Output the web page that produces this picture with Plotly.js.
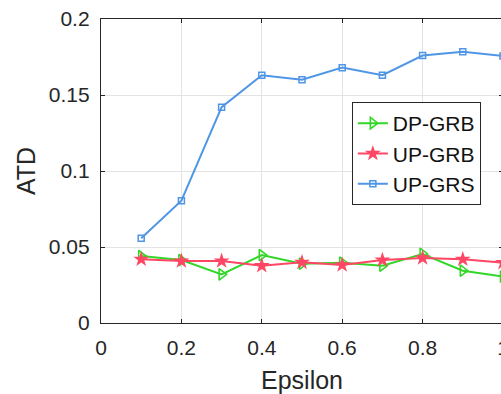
<!DOCTYPE html>
<html>
<head>
<meta charset="utf-8">
<script src="https://cdn.plot.ly/plotly-3.0.1.min.js"></script>
<style>
html,body{margin:0;padding:0;overflow:hidden;background:#fff;}
#chart{width:505px;height:394px;}
</style>
</head>
<body>
<div id="chart"></div>
<script>
const epsilon = [0.1, 0.2, 0.3, 0.4, 0.5, 0.6, 0.7, 0.8, 0.9, 1.0];
const dpGRB = [0.044, 0.0414, 0.032, 0.0447, 0.039, 0.0397, 0.0377, 0.0454, 0.0344, 0.0305];
const upGRB = [0.0419, 0.0408, 0.0408, 0.0377, 0.0399, 0.0382, 0.0414, 0.0428, 0.0419, 0.0397];
const upGRS = [0.0557, 0.0805, 0.142, 0.163, 0.160, 0.168, 0.163, 0.176, 0.1785, 0.1757];
const seriesNames = ['DP-GRB', 'UP-GRB', 'UP-GRS'];
const xTicks = [0, 0.2, 0.4, 0.6, 0.8, 1];
const yTicks = [0, 0.05, 0.1, 0.15, 0.2];

const font = 'Liberation Sans, Arial, Helvetica, sans-serif';
const axisColor = '#262626';

const traces = [
  {x: epsilon, y: dpGRB, name: seriesNames[0], mode: 'lines+markers',
   line: {color: 'rgb(50,215,40)', width: 2},
   marker: {symbol: 'triangle-right-open', size: 10, color: 'rgb(50,215,40)', line: {width: 1.6}}},
  {x: epsilon, y: upGRB, name: seriesNames[1], mode: 'lines+markers',
   line: {color: 'rgb(255,70,100)', width: 2},
   marker: {symbol: 'star', size: 12, color: 'rgb(255,70,100)'}},
  {x: epsilon, y: upGRS, name: seriesNames[2], mode: 'lines+markers',
   line: {color: 'rgb(80,150,230)', width: 2},
   marker: {symbol: 'square-open', size: 6, color: 'rgb(80,150,230)', line: {width: 1.5}}}
];

const layout = {
  width: 505, height: 394,
  margin: {l: 101, r: 2, t: 19, b: 71, pad: 0},
  paper_bgcolor: '#fff', plot_bgcolor: '#fff',
  font: {family: font, color: axisColor, size: 21},
  showlegend: true,
  legend: {x: 0.624, y: 0.727, xanchor: 'left', yanchor: 'top',
           bgcolor: '#fff', bordercolor: axisColor, borderwidth: 1,
           font: {family: font, size: 21, color: '#111'},
           tracegroupgap: 0, itemsizing: 'trace'},
  xaxis: {range: [0, 1], tickvals: xTicks, ticktext: xTicks.map(String),
          showgrid: true, gridcolor: '#e3e3e3', gridwidth: 1, zeroline: false,
          showline: true, linecolor: axisColor, linewidth: 1.2, mirror: 'ticks',
          ticks: 'inside', ticklen: 4, tickcolor: axisColor,
          tickfont: {family: font, size: 21, color: axisColor},
          ticklabelstandoff: 6, ticklabeloverflow: 'allow',
          title: {text: 'Epsilon', font: {family: font, size: 25, color: axisColor}, standoff: 18},
          automargin: false},
  yaxis: {range: [0, 0.2], tickvals: yTicks, ticktext: yTicks.map(String),
          showgrid: true, gridcolor: '#e3e3e3', gridwidth: 1, zeroline: false,
          showline: true, linecolor: axisColor, linewidth: 1.2, mirror: 'ticks',
          ticks: 'inside', ticklen: 4, tickcolor: axisColor,
          tickfont: {family: font, size: 21, color: axisColor},
          ticklabelstandoff: 6,
          title: {text: 'ATD', font: {family: font, size: 25, color: axisColor}, standoff: 6},
          automargin: false}
};

Plotly.newPlot('chart', traces, layout, {displayModeBar: false, staticPlot: true});
</script>
</body>
</html>
